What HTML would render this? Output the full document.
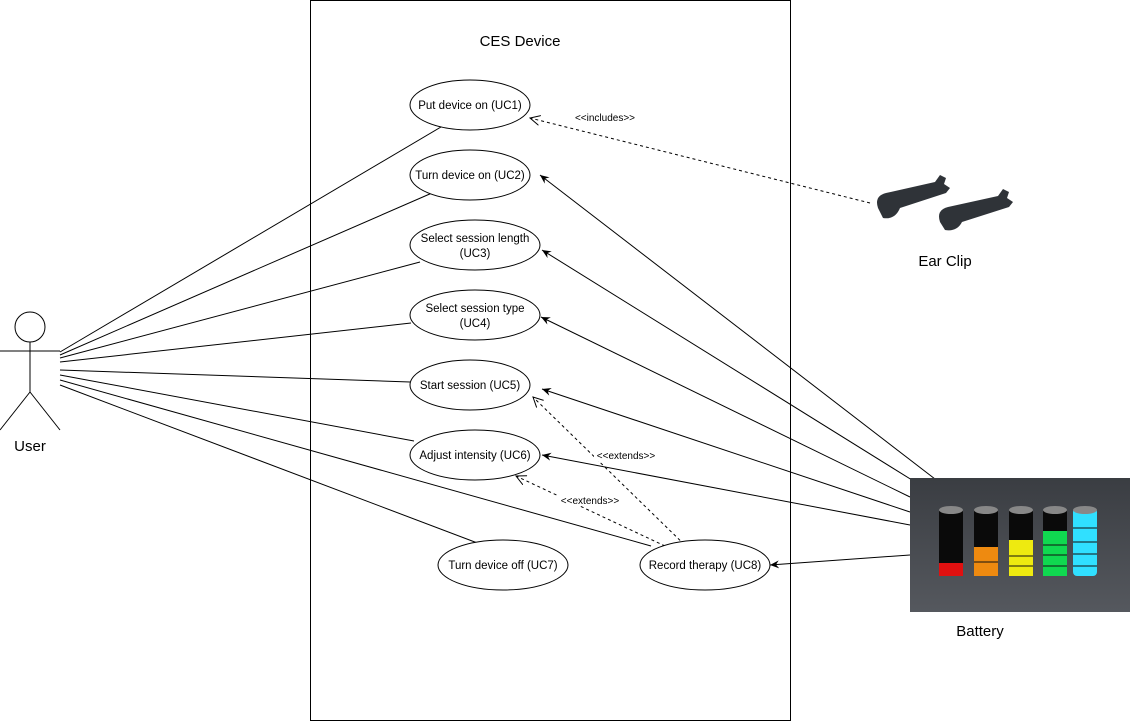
<!DOCTYPE html>
<html><head><meta charset="utf-8"><style>
html,body{margin:0;padding:0;background:#fff}
svg{display:block;font-family:"Liberation Sans",Arial,sans-serif}
</style></head><body>
<svg width="1131" height="721" viewBox="0 0 1131 721" xmlns="http://www.w3.org/2000/svg">
<defs>
<marker id="fa" markerWidth="10" markerHeight="10" refX="9" refY="5" orient="auto" markerUnits="userSpaceOnUse"><path d="M0,1 L9,5 L0,9 L3,5 Z" fill="#000"/></marker>
<marker id="oa" markerWidth="12" markerHeight="12" refX="10" refY="6" orient="auto" markerUnits="userSpaceOnUse"><path d="M0,1 L10,6 L0,11" fill="none" stroke="#000"/></marker>
<linearGradient id="bg" x1="0" y1="0" x2="0" y2="1"><stop offset="0" stop-color="#3a3d42"/><stop offset="1" stop-color="#55585e"/></linearGradient>
</defs>
<rect x="310.5" y="0.5" width="480" height="720" fill="#fff" stroke="#000"/>
<text x="520" y="46" font-size="15" text-anchor="middle">CES Device</text>
<g stroke="#000" fill="none" stroke-width="1">
<circle cx="30" cy="327" r="15" fill="#fff"/>
<line x1="30" y1="342" x2="30" y2="392"/>
<line x1="0" y1="351" x2="60" y2="351"/>
<line x1="30" y1="392" x2="0" y2="430"/>
<line x1="30" y1="392" x2="60" y2="430"/>
</g>
<text x="30" y="451" font-size="15" text-anchor="middle">User</text>
<g stroke="#000" stroke-width="1">
<line x1="60" y1="352" x2="441" y2="127"/>
<line x1="60" y1="355" x2="432" y2="193"/>
<line x1="60" y1="358" x2="420" y2="262"/>
<line x1="60" y1="362" x2="411" y2="323"/>
<line x1="60" y1="370" x2="410" y2="382"/>
<line x1="60" y1="375" x2="414" y2="441"/>
<line x1="60" y1="380" x2="651" y2="546"/>
<line x1="60" y1="385" x2="488" y2="547"/>
</g>
<g stroke="#000" stroke-width="1">
<line x1="935" y1="479" x2="540" y2="175" marker-end="url(#fa)"/>
<line x1="920" y1="485" x2="542" y2="250" marker-end="url(#fa)"/>
<line x1="910" y1="497" x2="541" y2="317" marker-end="url(#fa)"/>
<line x1="910" y1="512" x2="542" y2="389" marker-end="url(#fa)"/>
<line x1="910" y1="525" x2="542" y2="455" marker-end="url(#fa)"/>
<line x1="910" y1="555" x2="770" y2="565" marker-end="url(#fa)"/>
</g>
<g stroke="#000" stroke-width="1" stroke-dasharray="3,3" fill="none">
<line x1="870" y1="203" x2="530" y2="118" marker-end="url(#oa)"/>
<line x1="693" y1="553" x2="533" y2="397" marker-end="url(#oa)"/>
<line x1="665" y1="546" x2="516" y2="476" marker-end="url(#oa)"/>
</g>
<g font-size="10" text-anchor="middle">
<rect x="572" y="112" width="66" height="11" fill="#fff"/>
<text x="605" y="121">&lt;&lt;includes&gt;&gt;</text>
<rect x="594" y="450" width="64" height="11" fill="#fff"/>
<text x="626" y="459">&lt;&lt;extends&gt;&gt;</text>
<rect x="558" y="495" width="64" height="11" fill="#fff"/>
<text x="590" y="504">&lt;&lt;extends&gt;&gt;</text>
</g>
<g fill="#fff" stroke="#000" stroke-width="1">
<ellipse cx="470" cy="105" rx="60" ry="25"/>
<ellipse cx="470" cy="175" rx="60" ry="25"/>
<ellipse cx="475" cy="245" rx="65" ry="25"/>
<ellipse cx="475" cy="315" rx="65" ry="25"/>
<ellipse cx="470" cy="385" rx="60" ry="25"/>
<ellipse cx="475" cy="455" rx="65" ry="25"/>
<ellipse cx="503" cy="565" rx="65" ry="25"/>
<ellipse cx="705" cy="565" rx="65" ry="25"/>
</g>
<g font-size="11.5" text-anchor="middle">
<text x="470" y="109">Put device on (UC1)</text>
<text x="470" y="179">Turn device on (UC2)</text>
<text x="475" y="242">Select session length</text>
<text x="475" y="257">(UC3)</text>
<text x="475" y="312">Select session type</text>
<text x="475" y="327">(UC4)</text>
<text x="470" y="389">Start session (UC5)</text>
<text x="475" y="459">Adjust intensity (UC6)</text>
<text x="503" y="569">Turn device off (UC7)</text>
<text x="705" y="569">Record therapy (UC8)</text>
</g>
<g fill="#2f3338">
<path d="M878,208 Q874,196 886,193 L935,182 L940,175 L946,178 L944,184 L950,188 L946,193 L900,208 Q895,220 883,218 Z"/>
<path d="M940,222 Q936,210 948,207 L998,196 L1003,189 L1009,192 L1007,198 L1013,202 L1009,207 L962,222 Q957,232 945,230 Z"/>
</g>
<text x="945" y="266" font-size="15" text-anchor="middle">Ear Clip</text>
<rect x="910" y="478" width="220" height="134" fill="url(#bg)"/>
<g>
<rect x="939" y="508" width="24" height="68" rx="4" fill="#0a0a0a"/><rect x="939" y="563" width="24" height="13" fill="#e01010"/>
<rect x="974" y="508" width="24" height="68" rx="4" fill="#0a0a0a"/><rect x="974" y="547" width="24" height="29" fill="#ee8a10"/>
<rect x="1009" y="508" width="24" height="68" rx="4" fill="#0a0a0a"/><rect x="1009" y="540" width="24" height="36" fill="#eeea10"/>
<rect x="1043" y="508" width="24" height="68" rx="4" fill="#0a0a0a"/><rect x="1043" y="531" width="24" height="45" fill="#10d850"/>
<rect x="1073" y="508" width="24" height="68" rx="4" fill="#30e0ff"/>
<g stroke="#111" stroke-width="1"><line x1="974" y1="562" x2="998" y2="562"/><line x1="1009" y1="556" x2="1033" y2="556"/><line x1="1009" y1="566" x2="1033" y2="566"/><line x1="1043" y1="545" x2="1067" y2="545"/><line x1="1043" y1="555" x2="1067" y2="555"/><line x1="1043" y1="566" x2="1067" y2="566"/><line x1="1073" y1="528" x2="1097" y2="528"/><line x1="1073" y1="542" x2="1097" y2="542"/><line x1="1073" y1="554" x2="1097" y2="554"/><line x1="1073" y1="566" x2="1097" y2="566"/></g>
<g fill="#888"><ellipse cx="951" cy="510" rx="12" ry="4"/><ellipse cx="986" cy="510" rx="12" ry="4"/><ellipse cx="1021" cy="510" rx="12" ry="4"/><ellipse cx="1055" cy="510" rx="12" ry="4"/><ellipse cx="1085" cy="510" rx="12" ry="4"/></g>
</g>
<text x="980" y="636" font-size="15" text-anchor="middle">Battery</text>
</svg>
</body></html>
